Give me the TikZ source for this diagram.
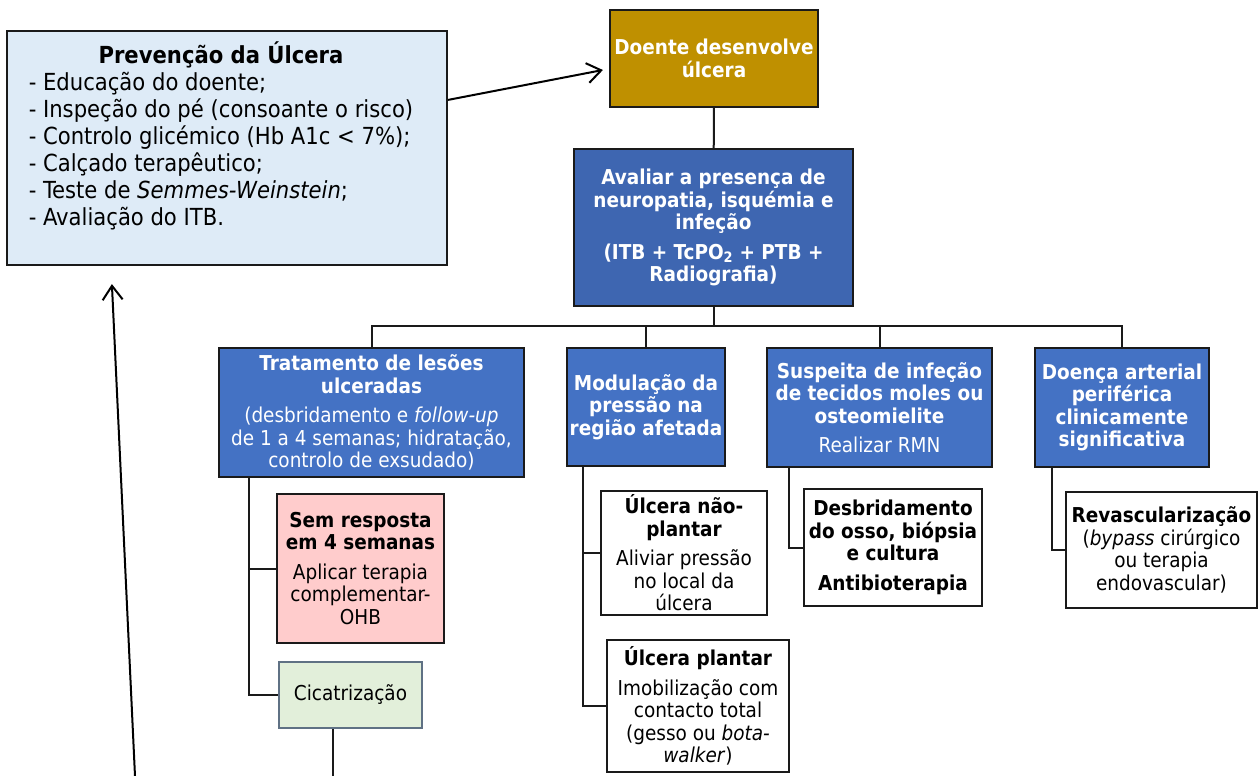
\documentclass[tikz,border=0pt]{standalone}
\usepackage{fontspec}
\setmainfont{DejaVu Sans Condensed}
\usetikzlibrary{arrows.meta,calc}
\definecolor{prevfill}{HTML}{DEEBF7}
\definecolor{goldfill}{HTML}{BF9000}
\definecolor{avalfill}{HTML}{3E66B1}
\definecolor{bluefill}{HTML}{4472C4}
\definecolor{pinkfill}{HTML}{FFCCCC}
\definecolor{greenfill}{HTML}{E2EFDA}
\definecolor{greenline}{HTML}{5F7184}
\definecolor{edge}{HTML}{1A1A1A}
\newcommand{\boxfont}{\fontsize{20.5}{22.5}\selectfont\lineskiplimit=-50pt\relax}
\newcommand{\prevfont}{\fontsize{23.5}{27}\selectfont}
\tikzset{
  box/.style={draw=edge, line width=2.2pt, inner sep=1pt, align=center,
    font=\boxfont},
  bluebox/.style={box, fill=bluefill, text=white},
  whitebox/.style={box, fill=white, text=black},
  conn/.style={draw=edge, line width=2pt},
  arr/.style={draw=black, line width=2pt, -{Straight Barb[length=14pt,width=20pt,line width=2pt]}},
}
\begin{document}
\begin{tikzpicture}[x=1pt,y=-1pt]
\useasboundingbox (0,0) rectangle (1259,776);
% Prevention box
\node[box, fill=prevfill, minimum width=440, minimum height=234] (prev) at (227,148) {};
\node[align=left, anchor=north, inner sep=0pt, font=\prevfont] (prevtext) at (221,42)
 {\begin{tabular}{@{}l@{}}
  \multicolumn{1}{@{}c@{}}{\bfseries Prevenção da Úlcera}\\
  - Educação do doente;\\
  - Inspeção do pé (consoante o risco)\\
  - Controlo glicémico (Hb A1c < 7\%);\\
  - Calçado terapêutico;\\
  - Teste de \textit{Semmes-Weinstein};\\
  - Avaliação do ITB.
  \end{tabular}};
% Top boxes
\node[box, fill=goldfill, text=white, minimum width=208, minimum height=97, font=\boxfont\bfseries] (doente) at (714,58.5) {Doente desenvolve\\úlcera};
\node[box, fill=avalfill, text=white, minimum width=279, minimum height=157, font=\boxfont\bfseries] (aval) at (713.5,227.5)
 {Avaliar a presença de\\neuropatia, isquémia e\\infeção\\[7pt](ITB + TcPO\textsubscript{2} + PTB +\\Radiografia)};
% Second level
\node[bluebox, minimum width=305, minimum height=129] (trat) at (371.5,412.5)
 {\textbf{Tratamento de lesões}\\\textbf{ulceradas}\\[7pt](desbridamento e \textit{follow-up}\\de 1 a 4 semanas; hidratação,\\controlo de exsudado)};
\node[bluebox, minimum width=158, minimum height=118, font=\boxfont\bfseries] (modul) at (646,407)
 {Modulação da\\pressão na\\região afetada};
\node[bluebox, minimum width=225, minimum height=119] (susp) at (879.5,407.5)
 {\textbf{Suspeita de infeção}\\\textbf{de tecidos moles ou}\\\textbf{osteomielite}\\[7pt]Realizar RMN};
\node[bluebox, minimum width=174, minimum height=119, font=\boxfont\bfseries] (doenca) at (1122,407.5)
 {Doença arterial\\periférica\\clinicamente\\significativa};
% Third level
\node[box, fill=pinkfill, minimum width=167, minimum height=149] (sem) at (360.5,568.5)
 {\textbf{Sem resposta}\\\textbf{em 4 semanas}\\[7pt]Aplicar terapia\\complementar-\\OHB};
\node[box, draw=greenline, fill=greenfill, minimum width=143, minimum height=66] (cica) at (350.5,695) {Cicatrização};
\node[whitebox, minimum width=166, minimum height=124] (naop) at (684,553)
 {\textbf{Úlcera não-}\\\textbf{plantar}\\[7pt]Aliviar pressão\\no local da\\úlcera};
\node[whitebox, minimum width=182, minimum height=132] (plan) at (698,706)
 {\textbf{Úlcera plantar}\\[7pt]Imobilização com\\contacto total\\(gesso ou \textit{bota-}\\\textit{walker})};
\node[whitebox, minimum width=178, minimum height=117] (desb) at (893,547.5)
 {\textbf{Desbridamento}\\\textbf{do osso, biópsia}\\\textbf{e cultura}\\[7pt]\textbf{Antibioterapia}};
\node[whitebox, minimum width=191, minimum height=116] (revas) at (1161.5,550)
 {\textbf{Revascularização}\\(\textit{bypass} cirúrgico\\ou terapia\\endovascular)};
% Connectors
\coordinate (bus) at (0,326);
\draw[conn] (doente) -- (aval);
\draw[conn] (aval.south) -- (aval.south |- bus);
\draw[conn] (trat.north) -- (trat.north |- bus) -- (doenca.north |- bus) -- (doenca.north);
\draw[conn] (modul.north |- bus) -- (modul.north);
\draw[conn] (susp.north |- bus) -- (susp.north);
\coordinate (tb) at ($(trat.south west)+(31,0)$);
\draw[conn] (tb) |- (sem.west);
\draw[conn] (tb) |- (cica.west);
\coordinate (mb) at ($(modul.south west)+(17,0)$);
\draw[conn] (mb) |- (naop.west);
\draw[conn] (mb) |- (plan.west);
\coordinate (sb) at ($(susp.south west)+(23,0)$);
\draw[conn] (sb) |- (desb.west);
\coordinate (db) at ($(doenca.south west)+(18,0)$);
\draw[conn] (db) |- (revas.west);
\coordinate (cend) at (333,776);
\draw[conn] (cica.south -| cend) -- (cend);
% Arrows
\coordinate (a1s) at ($(prev.north east)+(0,70)$);
\coordinate (a1e) at ($(doente.west)+(-6,11.5)$);
\draw[arr] (a1s) -- (a1e);
\coordinate (a2s) at (135,776);
\coordinate (a2e) at ($(prev.south west)+(106,18)$);
\draw[arr] (a2s) -- (a2e);
\end{tikzpicture}
\end{document}
